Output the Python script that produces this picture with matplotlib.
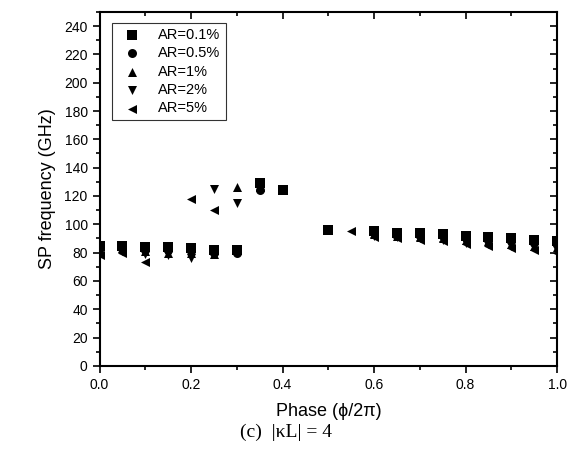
import numpy as np
import matplotlib
matplotlib.use('Agg')
import matplotlib.pyplot as plt
from matplotlib.ticker import MultipleLocator

plt.rcParams['font.family'] = ['Liberation Sans', 'DejaVu Sans']

# data (phase in units of 2*pi, SP frequency in GHz)
ar01_x = [0.0, 0.05, 0.1, 0.15, 0.2, 0.25, 0.3, 0.35, 0.4, 0.5, 0.6, 0.65, 0.7, 0.75, 0.8, 0.85, 0.9, 0.95, 1.0]
ar01_y = [85, 85, 84, 84, 83, 82, 82, 129, 124, 96, 95, 94, 94, 93, 92, 91, 90, 89, 88]

ar05_x = [0.0, 0.05, 0.1, 0.15, 0.2, 0.25, 0.3, 0.35, 0.6, 0.65, 0.7, 0.75, 0.8, 0.85, 0.9, 0.95, 1.0]
ar05_y = [84, 84, 82, 82, 81, 80, 80, 124, 94, 93, 92, 92, 90, 89, 88, 87, 86]

ar1_x = [0.0, 0.05, 0.1, 0.15, 0.2, 0.25, 0.3, 0.35, 0.6, 0.65, 0.7, 0.75, 0.8, 0.85, 0.9, 0.95, 1.0]
ar1_y = [82, 83, 81, 80, 80, 79, 126, 126, 93, 92, 91, 90, 89, 88, 86, 85, 84]

ar2_x = [0.0, 0.05, 0.1, 0.15, 0.2, 0.25, 0.3, 0.35, 0.6, 0.65, 0.7, 0.75, 0.8, 0.85, 0.9, 0.95, 1.0]
ar2_y = [80, 81, 79, 78, 76, 125, 115, 125, 92, 91, 90, 89, 87, 86, 85, 84, 82]

ar5_x = [0.0, 0.05, 0.1, 0.2, 0.25, 0.55, 0.6, 0.65, 0.7, 0.75, 0.8, 0.85, 0.9, 0.95, 1.0]
ar5_y = [78, 80, 73, 118, 110, 95, 91, 90, 89, 88, 86, 85, 83, 82, 80]

series = [
    (ar01_x, ar01_y, 's', 'AR=0.1%'),
    (ar05_x, ar05_y, 'o', 'AR=0.5%'),
    (ar1_x, ar1_y, '^', 'AR=1%'),
    (ar2_x, ar2_y, 'v', 'AR=2%'),
    (ar5_x, ar5_y, '<', 'AR=5%'),
]

fig = plt.figure(figsize=(5.72, 4.59), dpi=100)
ax = fig.add_axes([0.174, 0.203, 0.800, 0.771])

for x, y, m, lab in series:
    ax.scatter(x, y, marker=m, s=42, color='black', linewidths=0, label=lab)

ax.set_xlim(0, 1.0)
ax.set_ylim(0, 250)
ax.xaxis.set_major_locator(MultipleLocator(0.2))
ax.xaxis.set_minor_locator(MultipleLocator(0.1))
ax.yaxis.set_major_locator(MultipleLocator(20))
ax.yaxis.set_minor_locator(MultipleLocator(10))
ax.set_xticks(np.arange(0, 1.01, 0.2))
ax.set_xticklabels(['0.0', '0.2', '0.4', '0.6', '0.8', '1.0'])

ax.tick_params(which='both', direction='out', labelsize=10, width=1.2)
ax.tick_params(which='major', length=5)
ax.tick_params(which='minor', length=3)
# mirrored ticks on top/right pointing inward
ax.tick_params(which='both', top=True, right=True)
for t in ax.xaxis.get_ticklines(minor=False)[1::2] + ax.xaxis.get_ticklines(minor=True)[1::2]:
    t.set_marker(3)
for t in ax.yaxis.get_ticklines(minor=False)[1::2] + ax.yaxis.get_ticklines(minor=True)[1::2]:
    t.set_marker(0)
for s in ax.spines.values():
    s.set_linewidth(1.5)

ax.set_xlabel('Phase (\u03d5/2\u03c0)', fontsize=13, labelpad=8)
ax.set_ylabel('SP frequency (GHz)', fontsize=13, labelpad=6)

leg = ax.legend(loc='upper left', bbox_to_anchor=(0.012, 0.99), fontsize=10.5,
                frameon=True, fancybox=False, edgecolor='black', handletextpad=0.8,
                labelspacing=0.3, borderpad=0.35, scatterpoints=1)
leg.get_frame().set_linewidth(0.8)

fig.text(0.5, 0.058, '(c)  |\u03baL| = 4', ha='center', va='center', fontsize=14,
         family=['Liberation Serif', 'DejaVu Serif'])

fig.savefig('out.png', dpi=100)
